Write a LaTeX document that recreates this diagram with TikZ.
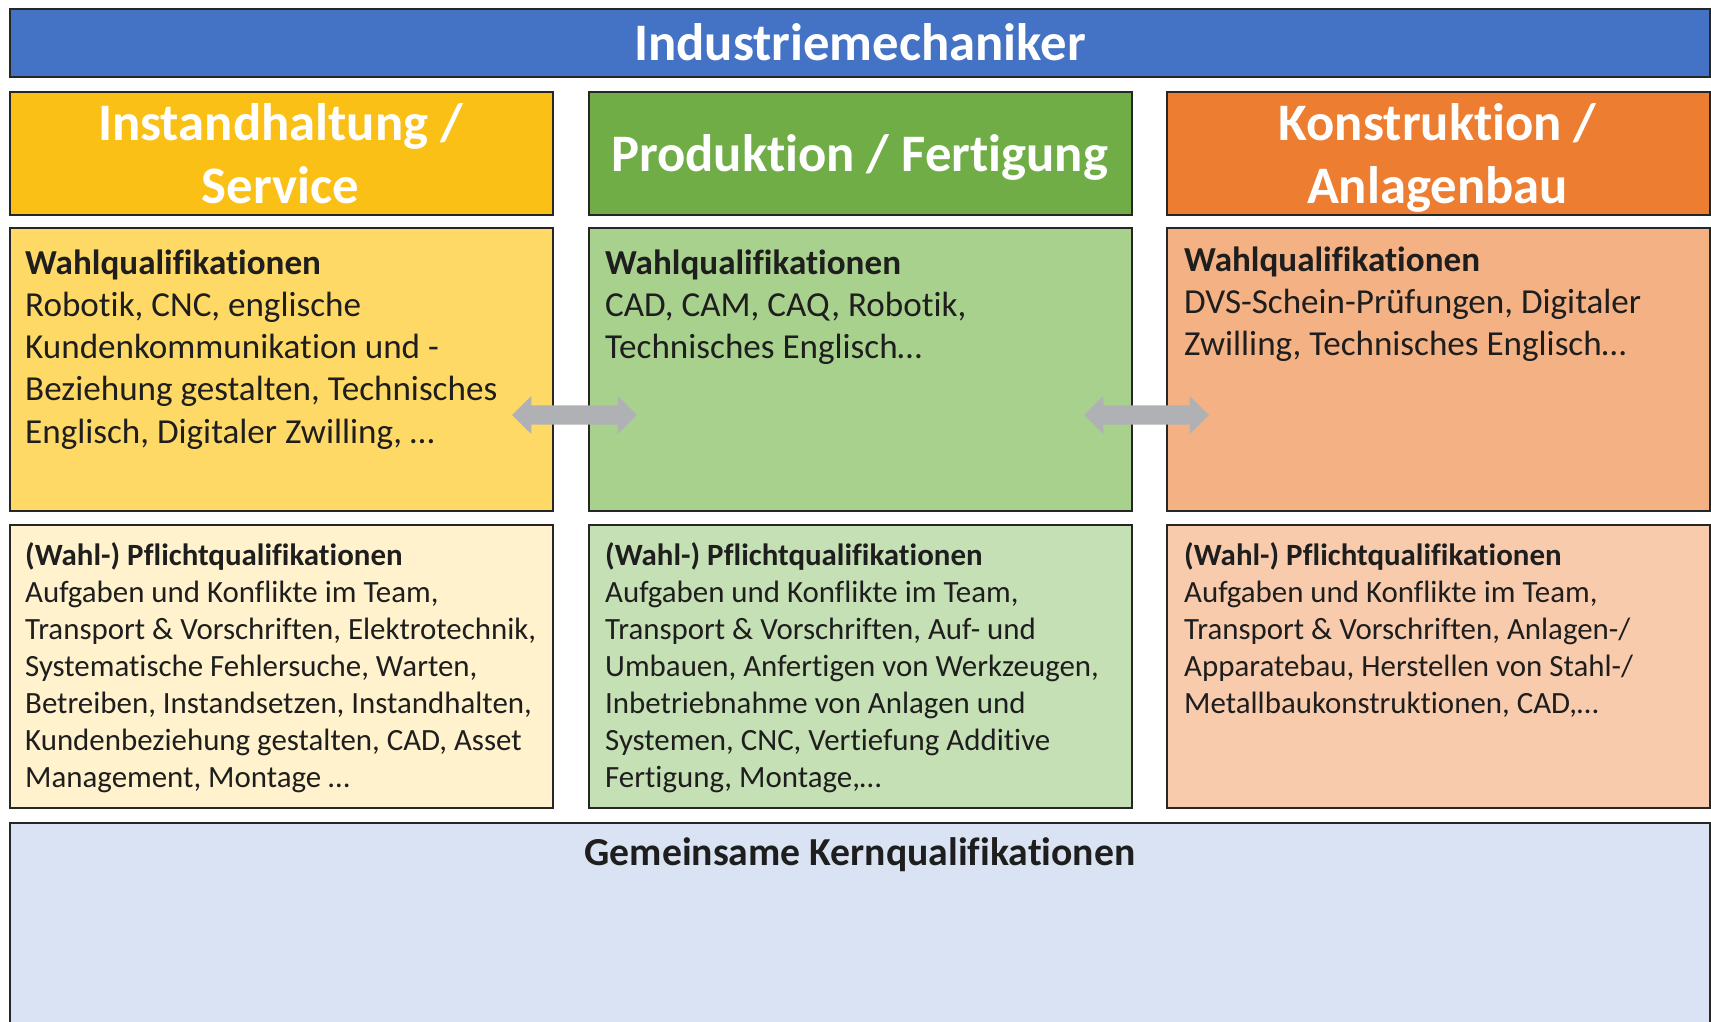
\documentclass[tikz,border=0pt]{standalone}
\usepackage{fontspec}
\setmainfont{Carlito}[Ligatures=NoCommon]
\definecolor{titleblue}{HTML}{4472C4}
\definecolor{hdyellow}{HTML}{FBC016}
\definecolor{hdgreen}{HTML}{70AD47}
\definecolor{hdorange}{HTML}{ED7D31}
\definecolor{wyellow}{HTML}{FFD966}
\definecolor{wgreen}{HTML}{A9D18E}
\definecolor{worange}{HTML}{F4B183}
\definecolor{pyellow}{HTML}{FFF2CC}
\definecolor{pgreen}{HTML}{C5E0B4}
\definecolor{porange}{HTML}{F8CBAD}
\definecolor{kernblue}{HTML}{DAE3F3}
\definecolor{bordercol}{HTML}{262626}
\definecolor{txtcol}{HTML}{1E1E1E}
\definecolor{arrowgray}{RGB}{176,177,181}
\begin{document}
\begin{tikzpicture}[x=1pt,y=-1pt,
  box/.style={draw=bordercol, line width=2pt, anchor=north west, inner sep=0pt},
  hdbox/.style={box, minimum width=543pt, minimum height=123pt},
  qbox/.style={box, minimum width=543pt, minimum height=283pt},
  hdtext/.style={anchor=base, text=white, inner sep=0pt, font=\bfseries\fontsize{52.7}{63}\selectfont},
  wtext/.style={anchor=base west, text=txtcol, inner sep=0pt, font=\fontsize{35.1}{42.3}\selectfont},
  ptext/.style={anchor=base west, text=txtcol, inner sep=0pt, font=\fontsize{30.9}{37.1}\selectfont}
]
\useasboundingbox (0,0) rectangle (1711,1021);
\fill[white] (0,0) rectangle (1711,1021);

% title
\node[box, fill=titleblue, minimum width=1700pt, minimum height=68pt] (title) at (9,8) {};
\node[hdtext] (titletext) at (860,60) {Industriemechaniker};

% headers
\node[hdbox, fill=hdyellow] (hd1) at (9,91) {};
\node[hdbox, fill=hdgreen] (hd2) at (588,91) {};
\node[hdbox, fill=hdorange] (hd3) at (1166,91) {};
\node[hdtext] (hd1t) at (280.5,140) {\parbox[t]{540pt}{\centering Instandhaltung /\\ Service}};
\node[hdtext] (hd2t) at (859.5,171) {\parbox[t]{540pt}{\centering Produktion / Fertigung}};
\node[hdtext] (hd3t) at (1437.5,140) {\parbox[t]{540pt}{\centering Konstruktion /\\ Anlagenbau}};

% Wahlqualifikationen
\node[qbox, fill=wyellow] (w1) at (9,227) {};
\node[qbox, fill=wgreen] (w2) at (588,227) {};
\node[qbox, fill=worange] (w3) at (1166,227) {};
\node[wtext] (w1t) at (25,274) {\parbox[t]{600pt}{\raggedright\textbf{Wahlqualifikationen}\\
Robotik, CNC, englische\\
Kundenkommunikation und -\\
Beziehung gestalten, Technisches\\
Englisch, Digitaler Zwilling, …}};
\node[wtext] (w2t) at (605,274) {\parbox[t]{600pt}{\raggedright\textbf{Wahlqualifikationen}\\
CAD, CAM, CAQ, Robotik,\\
Technisches Englisch…}};
\node[wtext] (w3t) at (1184,271) {\parbox[t]{600pt}{\raggedright\textbf{Wahlqualifikationen}\\
DVS-Schein-Prüfungen, Digitaler\\
Zwilling, Technisches Englisch…}};

% Pflichtqualifikationen
\node[qbox, fill=pyellow] (p1) at (9,524) {};
\node[qbox, fill=pgreen] (p2) at (588,524) {};
\node[qbox, fill=porange] (p3) at (1166,524) {};
\node[ptext] (p1t) at (25,565) {\parbox[t]{600pt}{\raggedright\textbf{(Wahl-) Pflichtqualifikationen}\\
Aufgaben und Konflikte im Team,\\
Transport \& Vorschriften, Elektrotechnik,\\
Systematische Fehlersuche, Warten,\\
Betreiben, Instandsetzen, Instandhalten,\\
Kundenbeziehung gestalten, CAD, Asset\\
Management, Montage …}};
\node[ptext] (p2t) at (605,565) {\parbox[t]{600pt}{\raggedright\textbf{(Wahl-) Pflichtqualifikationen}\\
Aufgaben und Konflikte im Team,\\
Transport \& Vorschriften, Auf- und\\
Umbauen, Anfertigen von Werkzeugen,\\
Inbetriebnahme von Anlagen und\\
Systemen, CNC, Vertiefung Additive\\
Fertigung, Montage,…}};
\node[ptext] (p3t) at (1184,565) {\parbox[t]{600pt}{\raggedright\textbf{(Wahl-) Pflichtqualifikationen}\\
Aufgaben und Konflikte im Team,\\
Transport \& Vorschriften, Anlagen-/\\
Apparatebau, Herstellen von Stahl-/\\
Metallbaukonstruktionen, CAD,…}};

% Kernqualifikationen
\node[box, fill=kernblue, minimum width=1700pt, minimum height=230pt] (kern) at (9,822) {};
\node[anchor=base, text=txtcol, inner sep=0pt, font=\bfseries\fontsize{39.7}{48}\selectfont] (kernt) at (860,865) {Gemeinsame Kernqualifikationen};

% double arrows
\fill[arrowgray] (512,415) -- (531.3,396) -- (531.3,405.3) -- (617.7,405.3) -- (617.7,396) -- (637,415)
  -- (617.7,434) -- (617.7,424.7) -- (531.3,424.7) -- (531.3,434) -- cycle;
\fill[arrowgray] (1084,415) -- (1103.3,396) -- (1103.3,405.3) -- (1189.7,405.3) -- (1189.7,396) -- (1209,415)
  -- (1189.7,434) -- (1189.7,424.7) -- (1103.3,424.7) -- (1103.3,434) -- cycle;
\end{tikzpicture}
\end{document}
